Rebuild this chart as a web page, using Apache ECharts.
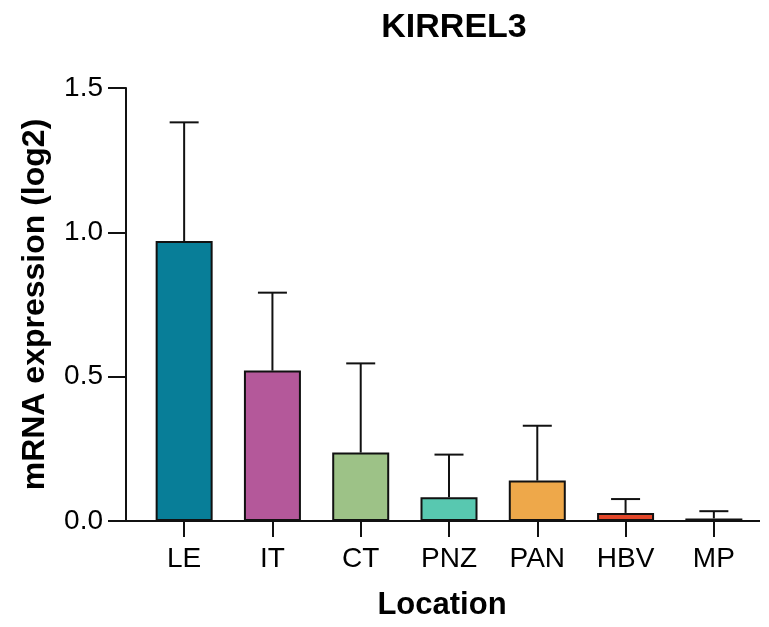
<!DOCTYPE html>
<html>
<head>
<meta charset="utf-8">
<script src="https://cdn.jsdelivr.net/npm/echarts@6/dist/echarts.min.js"></script>
<style>html,body{margin:0;padding:0;background:#fff;}#c{width:769px;height:627px;}</style>
</head>
<body>
<div id="c"></div>
<script>
var categories = ['LE', 'IT', 'CT', 'PNZ', 'PAN', 'HBV', 'MP'];
var means = [0.970, 0.521, 0.237, 0.082, 0.140, 0.028, 0.009];
var sds = [0.411, 0.270, 0.309, 0.148, 0.190, 0.048, 0.025];
var colors = ['#087E98', '#B4589A', '#9DC287', '#58C8B0', '#EEA84A', '#E2472A', '#111111'];
var yTicks = [0, 0.5, 1.0, 1.5];

var FONT = 'Liberation Sans, Arial, Helvetica, sans-serif';
var chart = echarts.init(document.getElementById('c'), null, {renderer: 'canvas'});

var barData = means.map(function (v, i) {
  return {value: v, itemStyle: {color: colors[i]}};
});
var errData = means.map(function (v, i) { return [i, v, v + sds[i]]; });

var option = {
  backgroundColor: '#fff',
  animation: false,
  title: {
    text: 'KIRREL3', left: 449, top: 6, textAlign: 'center',
    textStyle: {fontFamily: FONT, fontSize: 34, fontWeight: 'bold', color: '#000'}
  },
  grid: {left: 140, right: 11, top: 88, bottom: 106},
  xAxis: {
    type: 'category', data: categories, boundaryGap: true,
    name: 'Location', nameLocation: 'middle', nameGap: 69,
    nameTextStyle: {fontFamily: FONT, fontSize: 31, fontWeight: 'bold', color: '#000', padding: [0, 14, 0, 0]},
    axisLine: {show: false},
    axisTick: {show: true, alignWithLabel: true, length: 16, lineStyle: {color: '#111', width: 2}},
    axisLabel: {fontFamily: FONT, fontSize: 28, color: '#000', margin: 24}
  },
  yAxis: {
    type: 'value', min: 0, max: 1.5, interval: 0.5, offset: 14,
    name: 'mRNA expression (log2)', nameLocation: 'middle', nameGap: 75,
    nameTextStyle: {fontFamily: FONT, fontSize: 32, fontWeight: 'bold', color: '#000'},
    axisLine: {show: true, lineStyle: {color: '#111', width: 2}},
    axisTick: {show: true, length: 18, lineStyle: {color: '#111', width: 2}},
    splitLine: {show: false},
    axisLabel: {
      fontFamily: FONT, fontSize: 28, color: '#000', margin: 23,
      formatter: function (v) {
        for (var k = 0; k < yTicks.length; k++) { if (Math.abs(yTicks[k] - v) < 1e-9) return yTicks[k].toFixed(1); }
        return '';
      }
    }
  },
  series: [
    {
      type: 'bar', data: barData, barWidth: 57,
      itemStyle: {borderColor: '#111', borderWidth: 2},
      z: 2
    },
    {
      type: 'custom', data: errData, z: 1,
      renderItem: function (params, api) {
        var x = api.value(0);
        var p0 = api.coord([x, api.value(1)]);
        var p1 = api.coord([x, api.value(2)]);
        var hw = 14.5;
        return {
          type: 'group',
          children: [
            {type: 'line', shape: {x1: p0[0], y1: p0[1], x2: p1[0], y2: p1[1]}, style: {stroke: '#111', lineWidth: 2}},
            {type: 'line', shape: {x1: p1[0] - hw, y1: p1[1], x2: p1[0] + hw, y2: p1[1]}, style: {stroke: '#111', lineWidth: 2}}
          ]
        };
      }
    }
  ]
};
chart.setOption(option);

// x-axis baseline spanning from the offset y-axis line to the right end
var y0 = chart.convertToPixel({yAxisIndex: 0}, 0);
var grid = chart.getModel().getComponent('grid', 0).coordinateSystem.getRect();
chart.setOption({
  graphic: [{
    type: 'line', z: 10,
    shape: {x1: grid.x - 14, y1: y0, x2: grid.x + grid.width + 2, y2: y0},
    style: {stroke: '#111', lineWidth: 2}
  }]
});
</script>
</body>
</html>
